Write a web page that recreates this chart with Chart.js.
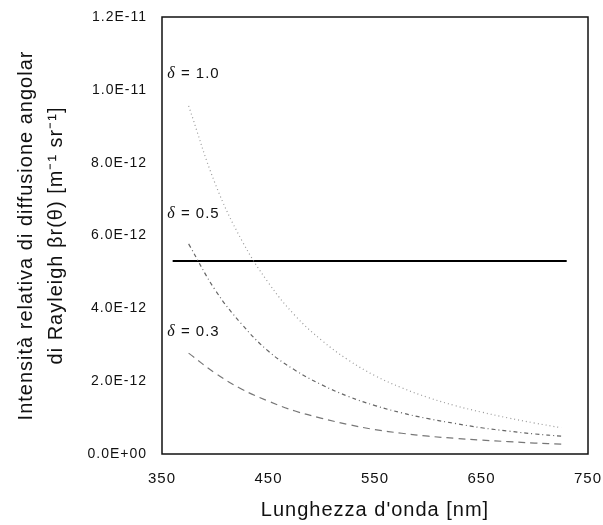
<!DOCTYPE html>
<html>
<head>
<meta charset="utf-8">
<script src="https://cdn.jsdelivr.net/npm/chart.js@4.4.0/dist/chart.umd.min.js"></script>
<style>
  html, body { margin: 0; padding: 0; background: #fff; }
</style>
</head>
<body>
<canvas id="rayleighChart" width="603" height="525"></canvas>
<script>
// Lunghezze d'onda campionate [nm]
const wavelengths = [375, 400, 425, 450, 475, 500, 525, 550, 575, 600, 625, 650, 675, 700, 725];

// Intensità per i tre valori di delta, in unità di 1E-12 m^-1 sr^-1
const delta10 = [9.56, 7.42, 5.86, 4.70, 3.80, 3.12, 2.58, 2.15, 1.82, 1.55, 1.33, 1.15, 0.99, 0.85, 0.72];
const delta05 = [5.77, 4.50, 3.56, 2.82, 2.30, 1.90, 1.58, 1.33, 1.13, 0.97, 0.84, 0.72, 0.63, 0.55, 0.49];
const delta03 = [2.77, 2.22, 1.78, 1.45, 1.18, 0.98, 0.81, 0.67, 0.57, 0.49, 0.43, 0.38, 0.34, 0.30, 0.27];

// Linea orizzontale di riferimento
const refLineX = [360, 730];
const refLineY = [5.30, 5.30];

// Etichette delle curve (testo e posizione in unità dei dati)
const deltaLabels = ['1.0', '0.5', '0.3'];
const deltaLabelX = 355;
const deltaLabelY = [10.43, 6.59, 3.35];

const xTicks = [350, 450, 550, 650, 750];
const yMax = 12;
const yStep = 2;

const FONT = '"Liberation Sans", Arial, sans-serif';

// Formato 0.0E+00 per i valori dell'asse y
function sciLabel(v) {
  const val = v * 1e-12;
  if (Math.abs(val) < 1e-20) return '0.0E+00';
  const parts = val.toExponential(1).split('e');
  const exp = parseInt(parts[1], 10);
  return parts[0] + 'E' + (exp < 0 ? '-' : '+') + String(Math.abs(exp)).padStart(2, '0');
}

function toPoints(xs, ys) {
  return xs.map((x, i) => ({ x: x, y: ys[i] }));
}

// Testi un po' spaziati, come nel grafico originale
const spacingPlugin = {
  id: 'letterSpacing',
  beforeDraw(chart) {
    chart.ctx.letterSpacing = '1px';
  }
};

// Cornice del grafico ed etichette delta
const framePlugin = {
  id: 'frameAndLabels',
  afterDatasetsDraw(chart) {
    const { ctx, chartArea, scales: { x, y } } = chart;
    ctx.save();
    ctx.strokeStyle = '#111';
    ctx.lineWidth = 1.5;
    ctx.strokeRect(chartArea.left, chartArea.top, chartArea.right - chartArea.left, chartArea.bottom - chartArea.top);

    ctx.fillStyle = '#111';
    ctx.textBaseline = 'middle';
    ctx.textAlign = 'left';
    deltaLabels.forEach((txt, i) => {
      const px = x.getPixelForValue(deltaLabelX);
      const py = y.getPixelForValue(deltaLabelY[i]);
      ctx.font = 'italic 16px "Liberation Serif", serif';
      ctx.fillText('δ', px, py);
      const w = ctx.measureText('δ').width;
      ctx.font = '15px ' + FONT;
      ctx.fillText(' = ' + txt, px + w, py);
    });
    ctx.restore();
  }
};

new Chart(document.getElementById('rayleighChart'), {
  type: 'scatter',
  data: {
    datasets: [
      {
        label: 'δ = 1.0',
        data: toPoints(wavelengths, delta10),
        showLine: true,
        borderColor: '#9a9a9a',
        borderWidth: 1.2,
        borderDash: [1, 3],
        pointRadius: 0,
        tension: 0.4
      },
      {
        label: 'δ = 0.5',
        data: toPoints(wavelengths, delta05),
        showLine: true,
        borderColor: '#666',
        borderWidth: 1.2,
        borderDash: [4, 3, 1, 3],
        pointRadius: 0,
        tension: 0.4
      },
      {
        label: 'δ = 0.3',
        data: toPoints(wavelengths, delta03),
        showLine: true,
        borderColor: '#777',
        borderWidth: 1.2,
        borderDash: [7, 5],
        pointRadius: 0,
        tension: 0.4
      },
      {
        label: 'riferimento',
        data: toPoints(refLineX, refLineY),
        showLine: true,
        borderColor: '#000',
        borderWidth: 2,
        pointRadius: 0
      }
    ]
  },
  options: {
    responsive: false,
    animation: false,
    layout: { padding: { top: 17, right: 15, left: 0, bottom: 0 } },
    plugins: {
      legend: { display: false },
      tooltip: { enabled: false }
    },
    scales: {
      x: {
        type: 'linear',
        min: 350,
        max: 750,
        afterBuildTicks: (scale) => { scale.ticks = xTicks.map(v => ({ value: v })); },
        afterFit: (scale) => {
          scale.height = 71;
          scale.paddingLeft = 0;
          scale.paddingRight = 0;
        },
        grid: { display: false, drawTicks: false },
        border: { display: false },
        ticks: {
          padding: 16,
          color: '#111',
          font: { family: FONT, size: 15 }
        },
        title: {
          display: true,
          text: "Lunghezza d'onda [nm]",
          color: '#111',
          font: { family: FONT, size: 20 },
          padding: { top: 0, bottom: 3 }
        }
      },
      y: {
        type: 'linear',
        min: 0,
        max: yMax,
        afterFit: (scale) => {
          scale.width = 162;
          scale.paddingTop = 0;
          scale.paddingBottom = 0;
        },
        grid: { display: false, drawTicks: false },
        border: { display: false },
        ticks: {
          stepSize: yStep,
          padding: 15,
          color: '#111',
          font: { family: FONT, size: 14 },
          callback: (v) => sciLabel(v)
        },
        title: {
          display: true,
          text: ['Intensità relativa di diffusione angolar', 'di Rayleigh βr(θ) [m⁻¹ sr⁻¹]'],
          color: '#111',
          font: { family: FONT, size: 20, lineHeight: 1.5 },
          padding: { top: 11, bottom: 0 }
        }
      }
    }
  },
  plugins: [spacingPlugin, framePlugin]
});
</script>
</body>
</html>
